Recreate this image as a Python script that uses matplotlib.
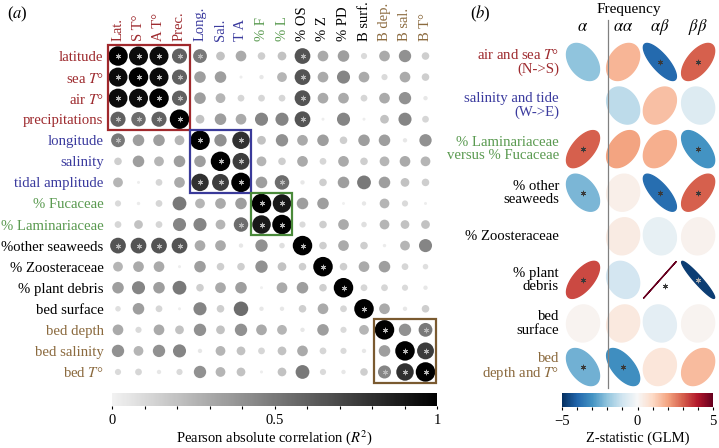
import numpy as np
import matplotlib
matplotlib.use("Agg")
import matplotlib.pyplot as plt
from matplotlib.colors import LinearSegmentedColormap, Normalize
from matplotlib.patches import Rectangle, Polygon
from matplotlib.cm import ScalarMappable

plt.rcParams["font.family"] = ["Liberation Serif", "DejaVu Serif"]
plt.rcParams["mathtext.fontset"] = "stix"

# ---- panel (a): correlation matrix ----
row_labels = ["latitude", "sea $T$°", "air $T$°", "precipitations", "longitude",
              "salinity", "tidal amplitude", "% Fucaceae", "% Laminariaceae",
              "%other seaweeds", "% Zoosteraceae", "% plant debris", "bed surface",
              "bed depth", "bed salinity", "bed $T$°"]
col_labels = ["Lat.", "S T°", "A T°", "Prec.", "Long.", "Sal.", "T A", "% F", "% L",
              "% OS", "% Z", "% PD", "B surf.", "B dep.", "B sal.", "B T°"]
groups = ["clim"] * 4 + ["west"] * 3 + ["alg"] * 2 + ["none"] * 4 + ["bed"] * 3

r2 = np.array([
    [1, .95, .95, .6, .5, .2, .3, .15, .2, .65, .3, .35, .1, .3, .4, .15],
    [.95, 1, .95, .6, .35, .35, .02, .05, .25, .65, .3, .45, .3, .1, .3, .15],
    [.95, .95, 1, .6, .35, .25, .12, .12, .12, .65, .3, .3, .12, .3, .4, .05],
    [.6, .55, .6, 1, .2, .35, .3, .45, .45, .65, .02, .45, .02, .2, .45, .12],
    [.5, .35, .35, .25, 1, .4, .8, .2, .4, .3, .35, .15, .35, .35, .05, .4],
    [.15, .35, .25, .35, .35, 1, .75, .25, .15, .3, .12, .3, .15, .25, .3, .25],
    [.25, .02, .12, .3, .8, .75, 1, .35, .55, .05, .15, .35, .5, .35, .2, .15],
    [.1, .03, .12, .5, .25, .3, .35, 1, .9, .35, .35, .01, .05, .25, .1, .02],
    [.12, .2, .12, .45, .45, .25, .55, .9, 1, .1, .15, .3, .08, .25, .2, .2],
    [.65, .65, .65, .65, .3, .3, .05, .4, .08, 1, .15, .3, .15, .03, .25, .45],
    [.25, .3, .3, .02, .35, .15, .15, .4, .2, .15, 1, .15, .3, .35, .12, .08],
    [.35, .45, .35, .5, .15, .3, .35, .01, .3, .35, .15, 1, .12, .12, .1, .05],
    [.08, .35, .12, .02, .45, .15, .55, .05, .05, .15, .3, .12, 1, .3, .05, .15],
    [.3, .1, .3, .2, .4, .2, .4, .3, .25, .05, .35, .1, .25, 1, .4, .5],
    [.4, .25, .4, .45, .05, .25, .2, .12, .2, .3, .12, .1, .05, .35, 1, .75],
    [.1, .12, .05, .1, .4, .25, .2, .02, .2, .5, .1, .05, .15, .45, .8, 1],
])
sig_pairs = [(i, j) for i in range(4) for j in range(4)] + \
    [(0, 4), (9, 0), (9, 1), (9, 2), (9, 3), (4, 6), (5, 6), (6, 8), (7, 8),
     (13, 15), (14, 15)] + [(i, i) for i in range(16)]

# ---- panel (b): GLM z statistics ----
b_rows = ["air and sea $T$°\n(N->S)", "salinity and tide\n(W->E)",
          "% Laminariaceae\nversus % Fucaceae", "% other\nseaweeds", "% Zoosteraceae",
          "% plant\ndebris", "bed\nsurface", "bed\ndepth and $T$°"]
b_groups = ["clim", "west", "alg", "none", "none", "none", "none", "bed"]
b_cols = ["$\\alpha$", "$\\alpha\\alpha$", "$\\alpha\\beta$", "$\\beta\\beta$"]
zstat = np.array([
    [-2.0, 1.7, -3.9, 3.0],
    [0.0, -1.3, 1.5, -0.7],
    [3.0, 2.0, 1.8, -3.0],
    [-2.3, 0.3, -3.8, 3.0],
    [0.0, 0.4, -0.4, 0.2],
    [3.3, -0.9, 5.2, -4.75],
    [0.15, 0.5, -0.5, 0.15],
    [-2.4, -3.1, 0.6, 1.6],
])
b_sig = [(0, 2), (0, 3), (2, 0), (2, 3), (3, 0), (3, 2), (3, 3), (5, 0), (5, 2),
         (5, 3), (7, 0), (7, 1)]

text_col = {"clim": "#9e2b2f", "west": "#3b3b9e", "alg": "#5a9a50",
            "none": "black", "bed": "#8b6a3e"}
box_col = {"clim": "#a0282c", "west": "#3a3a9a", "alg": "#4a8a3a", "bed": "#7a5a30"}

W, H = 719, 448
fig = plt.figure(figsize=(W / 100, H / 100), dpi=100)


def rect(l, t, r, b):
    return [l / W, 1 - b / H, (r - l) / W, (b - t) / H]


def ftext(x, y, s, **kw):
    fig.text(x / W, 1 - y / H, s, **kw)


grays = LinearSegmentedColormap.from_list("gr", ["#f2f2f2", "black"])

ax = fig.add_axes(rect(107.75, 45.5, 435.75, 382.5))
n = len(row_labels)
ii, jj = np.meshgrid(np.arange(n), np.arange(n), indexing="ij")
vals = r2.ravel()
d_px = np.maximum(19.5 * np.sqrt(vals), 3.0)
ax.scatter(jj.ravel(), ii.ravel(), s=(d_px * 0.72) ** 2, c=vals, cmap=grays,
           vmin=0, vmax=1, linewidths=0, zorder=2)
sig = set()
for i, j in sig_pairs:
    sig.add((i, j))
    sig.add((j, i))
sig = sorted(sig)
ax.scatter([j for i, j in sig], [i for i, j in sig], marker=(6, 2, 0), s=12,
           color="#b8b8b8", linewidths=0.6, zorder=3)
for g, (a, b) in {"clim": (0, 3), "west": (4, 6), "alg": (7, 8), "bed": (13, 15)}.items():
    ax.add_patch(Rectangle((a - 0.5, a - 0.5), b - a + 1, b - a + 1, fill=False,
                           edgecolor=box_col[g], linewidth=1.6, zorder=4, clip_on=False))
ax.set_xlim(-0.5, n - 0.5)
ax.set_ylim(n - 0.5, -0.5)
for s in ax.spines.values():
    s.set_visible(False)
ax.set_yticks(range(n))
ax.set_yticklabels(row_labels, fontsize=10.6)
ax.xaxis.tick_top()
ax.set_xticks(range(n))
ax.set_xticklabels(col_labels, fontsize=10.5, rotation=90)
ax.tick_params(length=0, pad=3)
for lab, g in zip(ax.get_yticklabels(), groups):
    lab.set_color(text_col[g])
for lab, g in zip(ax.get_xticklabels(), groups):
    lab.set_color(text_col[g])

cax = fig.add_axes(rect(112, 393, 437, 406))
cb = fig.colorbar(ScalarMappable(Normalize(0, 1), grays), cax=cax, orientation="horizontal")
cb.outline.set_visible(False)
cb.set_ticks(np.linspace(0, 1, 11))
cb.set_ticklabels(["0", "", "", "", "", "0.5", "", "", "", "", "1"])
cax.tick_params(length=2.5, width=0.8, pad=3, labelsize=10.5)
ftext(274, 438, "Pearson absolute correlation ($R^2$)", ha="center", va="center", fontsize=10.5)
ftext(17, 14, "($a$)", ha="center", va="center", fontsize=12)

# ---- panel (b) ----
bx = fig.add_axes(rect(560.5, 38, 718, 391))
bx.set_xlim(-0.6, 3.6)
bx.set_ylim(7.55, -0.55)
bx.axis("off")
col_x = [0, 1.07, 2.05, 3.07]
rb = plt.get_cmap("RdBu_r")
norm = Normalize(-5, 5)
k = np.linspace(0, 2 * np.pi, 120)
ew, eh = 0.88, 0.85
for r in range(zstat.shape[0]):
    for c in range(zstat.shape[1]):
        z = zstat[r, c]
        if abs(z) < 0.05:
            continue
        rho = np.clip(z / 5, -1, 1)
        d = np.arccos(rho)
        ex = np.cos(k + d / 2) / 2 * ew + col_x[c]
        ey = r - np.cos(k - d / 2) / 2 * eh
        col = rb(norm(z))
        bx.add_patch(Polygon(np.column_stack([ex, ey]), closed=True, facecolor=col,
                             edgecolor=col, linewidth=1.0, zorder=2))
for r, c in b_sig:
    z = zstat[r, c]
    sc = "#aaaaaa" if z < -4.5 else "#3a3a3a"
    off = 0.13 if abs(z) >= 5 else 0.0
    bx.scatter(col_x[c] + off, r + off, marker=(6, 2, 0), s=12, color=sc,
               linewidths=0.6, zorder=3)
bx.plot([0.67, 0.67], [-0.96, 7.47], color="#808080", lw=0.9, clip_on=False)
for c, lab in enumerate(b_cols):
    bx.text(col_x[c], -0.8, lab, ha="center", va="center", fontsize=12, clip_on=False)
ftext(629, 9, "Frequency", ha="center", va="center", fontsize=11)
ftext(480, 14, "($b$)", ha="center", va="center", fontsize=12)
for r, (lab, g) in enumerate(zip(b_rows, b_groups)):
    ftext(559, 62 + r * 43.6, lab, ha="right", va="center", multialignment="right",
          fontsize=10.6, color=text_col[g], linespacing=1.05)

cax2 = fig.add_axes(rect(562, 393, 713, 407))
cb2 = fig.colorbar(ScalarMappable(norm, rb), cax=cax2, orientation="horizontal")
cb2.outline.set_visible(False)
cb2.set_ticks(np.arange(-5, 6))
cb2.set_ticklabels(["\u22125", "", "", "", "", "0", "", "", "", "", "5"])
cax2.tick_params(length=2.5, width=0.8, pad=3, labelsize=10.5)
ftext(638, 438, "Z-statistic (GLM)", ha="center", va="center", fontsize=10.5)

fig.savefig("out.png", dpi=100)
